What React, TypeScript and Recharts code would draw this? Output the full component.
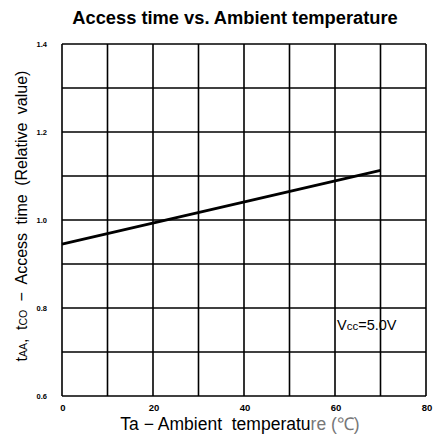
import React from 'react';
import { LineChart, Line, XAxis, YAxis, CartesianGrid } from 'recharts';

const temperatures = [0, 70];
const accessTime = [0.945, 1.113];
const xTicks = [0, 10, 20, 30, 40, 50, 60, 70, 80];
const yTicks = [0.6, 0.7, 0.8, 0.9, 1.0, 1.1, 1.2, 1.3, 1.4];
const xLabelTicks = [0, 20, 40, 60, 80];
const yLabelTicks = [0.6, 0.8, 1.0, 1.2, 1.4];

const data = temperatures.map((t, i) => ({ t, v: accessTime[i] }));

const font = '"Liberation Sans", Arial, sans-serif';

export default function App() {
  return (
    <div style={{ position: 'absolute', left: 0, top: 0, width: 433, height: 437, background: '#fff', fontFamily: font }}>
      <div style={{ position: 'absolute', left: 235, top: 18, transform: 'translate(-50%, -50%)', fontWeight: 'bold', fontSize: 18.3, color: '#000', whiteSpace: 'nowrap' }}>
        Access time vs. Ambient temperature
      </div>
      <LineChart width={433} height={437} data={data} margin={{ top: 44, right: 7, left: 0, bottom: 21 }}>
        <CartesianGrid stroke="#000" strokeWidth={1.6} horizontalValues={yTicks} verticalValues={xTicks} />
        <XAxis
          dataKey="t"
          type="number"
          domain={[0, 80]}
          ticks={xTicks}
          interval={0}
          height={20}
          axisLine={false}
          tickLine={false}
          tickMargin={2}
          tick={{ fill: '#000', fontSize: 9.5, fontWeight: 'bold', fontFamily: font, dx: 1 }}
          tickFormatter={(v: number) => (xLabelTicks.includes(v) ? String(v) : '')}
        />
        <YAxis
          type="number"
          domain={[0.6, 1.4]}
          ticks={yTicks}
          interval={0}
          width={62}
          axisLine={false}
          tickLine={false}
          tickMargin={9}
          tick={{ fill: '#000', fontSize: 7.5, fontWeight: 'bold', fontFamily: font }}
          tickFormatter={(v: number) => (yLabelTicks.some((l) => Math.abs(l - v) < 1e-6) ? v.toFixed(1) : '')}
        />
        <Line dataKey="v" stroke="#000" strokeWidth={2.8} dot={false} isAnimationActive={false} />
      </LineChart>
      <div style={{ position: 'absolute', left: 22, top: 216, transform: 'translate(-50%, -50%) rotate(-90deg)', fontSize: 16, whiteSpace: 'nowrap', color: '#000', wordSpacing: 4 }}>
        t<span style={{ fontSize: 10.5 }}>AA</span>, t<span style={{ fontSize: 10.5 }}>CO</span> − Access time (Relative value)
      </div>
      <div style={{ position: 'absolute', left: 240, top: 423, transform: 'translate(-50%, -50%)', fontSize: 17.5, whiteSpace: 'nowrap', color: '#000' }}>
        Ta − Ambient&nbsp; temperatu<span style={{ color: '#777' }}>re (℃)</span>
      </div>
      <div style={{ position: 'absolute', left: 337, top: 317, fontSize: 14.5, whiteSpace: 'nowrap', color: '#000' }}>
        V<span style={{ fontSize: 11.5 }}>cc</span>=5.0V
      </div>
    </div>
  );
}
